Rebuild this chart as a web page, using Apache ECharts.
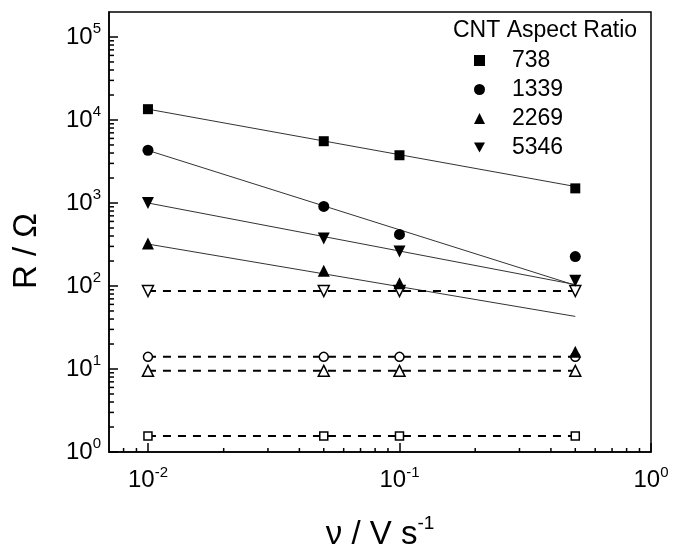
<!DOCTYPE html>
<html>
<head>
<meta charset="utf-8">
<script src="https://cdn.jsdelivr.net/npm/echarts@6/dist/echarts.min.js"></script>
<style>
html, body { margin: 0; padding: 0; background: #fff; }
#chart { width: 673px; height: 547px; }
</style>
</head>
<body>
<div id="chart"></div>
<script>
// scan rate (V/s)
var scanRates = [0.01, 0.05, 0.1, 0.5];
var aspectRatios = ['738', '1339', '2269', '5346'];

// filled symbols
var rFilled738 = [13500, 5550, 3760, 1500];
var rFilled1339 = [4320, 910, 418, 226];
var rFilled2269 = [325, 153, 108, 16.1];
var rFilled5346 = [1000, 374, 260, 116];

// open symbols (dashed)
var rOpen738 = [1.56, 1.56, 1.56, 1.56];
var rOpen1339 = [14, 14, 14, 14];
var rOpen2269 = [9.5, 9.5, 9.5, 9.5];
var rOpen5346 = [87, 87, 87, 87];

// fitted lines, end points
var fitX = [0.01, 0.5];
var fit738 = [13500, 1580];
var fit1339 = [4300, 102];
var fit2269 = [320, 43];
var fit5346 = [1000, 104];

var xMin = 0.007, xMax = 1;
var yMin = 1, yMax = 200000;

// minor tick positions (2..9 per decade)
var xMinorTicks = [0.008, 0.009];
for (var k = -2; k < 0; k++) {
    for (var m = 2; m <= 9; m++) xMinorTicks.push(m * Math.pow(10, k));
}
var yMinorTicks = [];
for (var k = 0; k < 5; k++) {
    for (var m = 2; m <= 9; m++) yMinorTicks.push(m * Math.pow(10, k));
}

var font = 'Liberation Sans, Arial, sans-serif';
var downTriangle = 'path://M0,0 L10,0 L5,9 Z';

function pair(xs, ys) {
    var out = [];
    for (var i = 0; i < xs.length; i++) out.push([xs[i], ys[i]]);
    return out;
}

function powLabel(v) {
    var e = Math.log10(v);
    if (Math.abs(e - Math.round(e)) > 1e-6) return '';
    return '{b|10}{s|' + Math.round(e) + '}';
}

var labelRich = {
    b: { fontSize: 24, fontFamily: font, color: '#000' },
    s: { fontSize: 15, fontFamily: font, color: '#000', padding: [0, 0, 16, 0] }
};

function filled(name, data, symbol, size, rotate) {
    return {
        name: name, type: 'scatter', data: data, symbol: symbol,
        symbolSize: size, symbolRotate: rotate || 0,
        itemStyle: { color: '#000', opacity: 1 }, z: 5
    };
}

function fitLine(data) {
    return {
        type: 'line', data: data, symbol: 'none', silent: true,
        lineStyle: { color: '#333', width: 1 }, z: 3
    };
}

function openLine(data, symbol, size, rotate) {
    return {
        type: 'line', data: data, symbol: symbol, symbolSize: size,
        symbolRotate: rotate || 0, showAllSymbol: true,
        lineStyle: { color: '#000', width: 2, type: [8, 7] },
        itemStyle: { color: '#fff', borderColor: '#000', borderWidth: 1.5 },
        z: 4
    };
}

function minorTicks(ticks, isX) {
    return {
        type: 'custom', silent: true, clip: false, z: 6,
        data: ticks.map(function (v) { return isX ? [v, yMin] : [xMin, v]; }),
        encode: { x: 0, y: 1 },
        renderItem: function (params, api) {
            var p = api.coord([api.value(0), api.value(1)]);
            var shape = isX
                ? { x1: p[0], y1: p[1], x2: p[0], y2: p[1] - 4 }
                : { x1: p[0], y1: p[1], x2: p[0] + 5, y2: p[1] };
            return { type: 'line', shape: shape, style: { stroke: '#000', lineWidth: 1.5 } };
        }
    };
}

var myChart = echarts.init(document.getElementById('chart'));
var option = {
    animation: false,
    backgroundColor: '#fff',
    grid: {
        left: 109, right: 22, top: 12, bottom: 95,
        containLabel: false, outerBoundsMode: 'none',
        show: true, borderColor: '#000', borderWidth: 1.5
    },
    title: {
        text: 'CNT Aspect Ratio',
        left: 453, top: 19, padding: 0,
        textStyle: { fontSize: 23, fontWeight: 'normal', fontFamily: font, color: '#000' }
    },
    legend: {
        data: [
            { name: aspectRatios[0] },
            { name: aspectRatios[1] },
            { name: aspectRatios[2] },
            { name: aspectRatios[3], icon: downTriangle }
        ],
        orient: 'vertical',
        left: 469, top: 44,
        itemWidth: 11, itemHeight: 11, itemGap: 6,
        textStyle: { fontSize: 23, fontFamily: font, color: '#000', lineHeight: 23, padding: [0, 0, 0, 22] }
    },
    xAxis: {
        type: 'log', min: xMin, max: xMax, logBase: 10,
        name: '{a|ν / V s}{s|-1}',
        nameLocation: 'middle', nameGap: 62,
        nameTextStyle: {
            rich: {
                a: { fontSize: 33, fontFamily: font, color: '#000' },
                s: { fontSize: 19, fontFamily: font, color: '#000', padding: [0, 0, 22, 0] }
            }
        },
        axisLine: { lineStyle: { color: '#000', width: 1.5 } },
        axisTick: { inside: true, length: 9, lineStyle: { color: '#000', width: 1.5 } },
        axisLabel: { formatter: powLabel, rich: labelRich, margin: 13, showMinLabel: false },
        splitLine: { show: false }
    },
    yAxis: {
        type: 'log', min: yMin, max: yMax, logBase: 10,
        name: 'R / Ω',
        nameLocation: 'middle', nameGap: 66,
        nameTextStyle: { fontSize: 33, fontFamily: font, color: '#000', padding: [0, 38, 0, 0] },
        axisLine: { lineStyle: { color: '#000', width: 1.5 } },
        axisTick: { inside: true, length: 9, lineStyle: { color: '#000', width: 1.5 } },
        axisLabel: { formatter: powLabel, rich: labelRich, margin: 8, showMaxLabel: false },
        splitLine: { show: false }
    },
    series: [
        fitLine(pair(fitX, fit738)),
        fitLine(pair(fitX, fit1339)),
        fitLine(pair(fitX, fit2269)),
        fitLine(pair(fitX, fit5346)),
        openLine(pair(scanRates, rOpen738), 'rect', 8),
        openLine(pair(scanRates, rOpen1339), 'circle', 9),
        openLine(pair(scanRates, rOpen2269), 'triangle', 11),
        openLine(pair(scanRates, rOpen5346), 'triangle', 11, 180),
        filled(aspectRatios[0], pair(scanRates, rFilled738), 'rect', 10),
        filled(aspectRatios[1], pair(scanRates, rFilled1339), 'circle', 11),
        filled(aspectRatios[2], pair(scanRates, rFilled2269), 'triangle', 12),
        filled(aspectRatios[3], pair(scanRates, rFilled5346), 'triangle', 12, 180),
        minorTicks(xMinorTicks, true),
        minorTicks(yMinorTicks, false)
    ]
};
myChart.setOption(option);
</script>
</body>
</html>
